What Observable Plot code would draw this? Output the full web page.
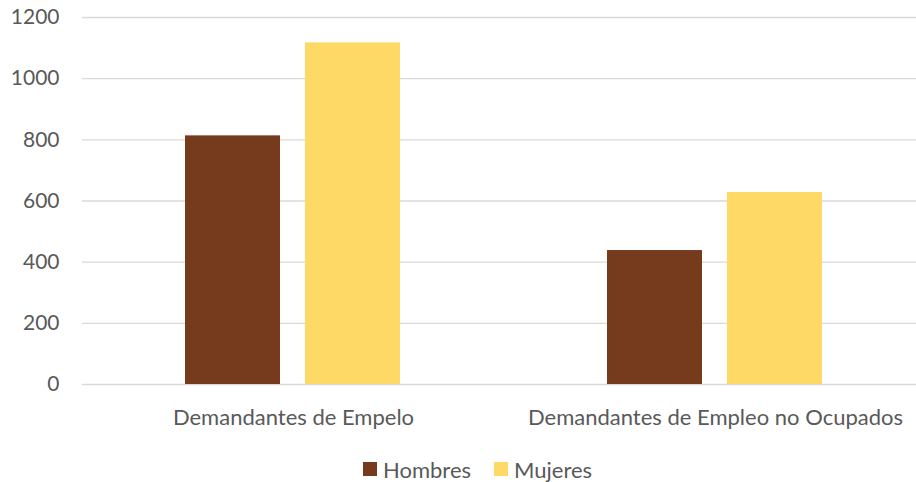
<!DOCTYPE html>
<html><head><meta charset="utf-8">
<script src="https://cdn.jsdelivr.net/npm/d3@7"></script>
<script src="https://cdn.jsdelivr.net/npm/@observablehq/plot@0.6"></script>
<style>
body{margin:0;background:#fff;}
#wrap{width:916px;height:482px;overflow:hidden;position:relative;font-family:Lato,sans-serif;color:#595959;}
#chart{position:absolute;left:0;top:0;width:926px;}
#chart svg{max-width:none !important;}
.legend{position:absolute;top:456px;left:363px;height:26px;display:flex;align-items:center;font-size:22px;color:#595959;white-space:nowrap;}
.legend .sw{display:inline-block;width:14px;height:14px;margin-right:6px;}
.legend .item{display:flex;align-items:center;margin-right:23px;}
</style>
</head><body>
<div id="wrap"><div id="chart"></div><div class="legend" id="legend"></div></div>
<script>
const categories = ["Demandantes de Empelo", "Demandantes de Empleo no Ocupados"];
const series = ["Hombres", "Mujeres"];
const hombres = [813, 438];
const mujeres = [1117, 628];
const colors = ["#763a1c", "#fed966"];
const yTicks = [0, 200, 400, 600, 800, 1000, 1200];

const data = [];
categories.forEach((c, i) => {
  data.push({category: c, sex: series[0], value: hombres[i]});
  data.push({category: c, sex: series[1], value: mujeres[i]});
});

const chart = Plot.plot({
  width: 926, height: 440,
  marginLeft: 82, marginRight: 0, marginTop: 17, marginBottom: 56,
  style: {fontFamily: "Lato, sans-serif", fontSize: "22px", color: "#595959", background: "#fff", maxWidth: "none"},
  fx: {domain: categories, padding: 0, label: null, axis: "bottom", tickSize: 0, tickPadding: 25},
  x: {domain: series, axis: null, paddingInner: 0.208, paddingOuter: 0.86},
  y: {domain: [0, 1200], ticks: yTicks, tickSize: 0, tickPadding: 23, label: null, tickFormat: d => String(d)},
  color: {domain: series, range: colors},
  marks: [
    Plot.ruleY(yTicks, {stroke: "#d9d9d9", strokeWidth: 1.3}),
    Plot.barY(data, {fx: "category", x: "sex", y: "value", fill: "sex"})
  ]
});
chart.querySelectorAll("g[aria-label='y-axis tick label'] text, g[aria-label='y-axis tick label']").forEach(el => el.setAttribute("font-size", "21px"));
document.getElementById("chart").appendChild(chart);

const legend = document.getElementById("legend");
series.forEach((s, i) => {
  const item = document.createElement("span");
  item.className = "item";
  const sw = document.createElement("span");
  sw.className = "sw";
  sw.style.background = colors[i];
  item.appendChild(sw);
  item.appendChild(document.createTextNode(s));
  legend.appendChild(item);
});
</script>
</body></html>
